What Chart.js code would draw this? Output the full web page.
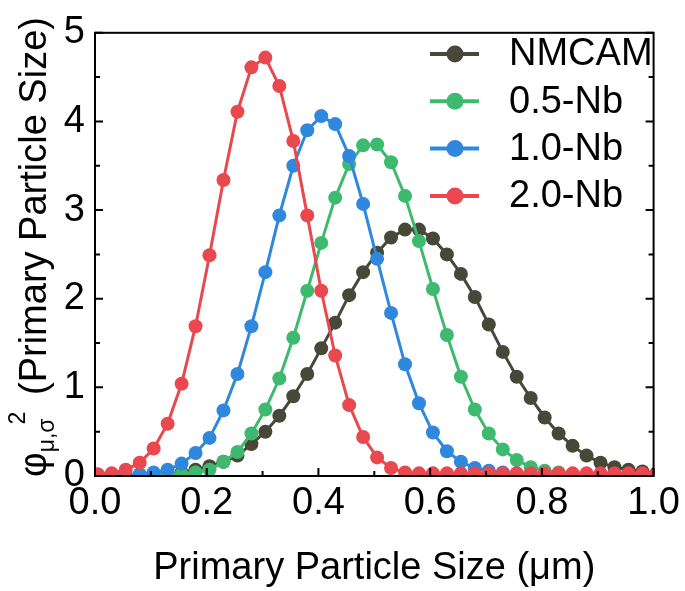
<!DOCTYPE html>
<html>
<head>
<meta charset="utf-8">
<script src="https://cdn.jsdelivr.net/npm/chart.js@4.4.0/dist/chart.umd.min.js"></script>
<style>
  html, body { margin: 0; padding: 0; background: #fff; }
  canvas { display: block; }
</style>
</head>
<body>
<canvas id="chart1" width="685" height="591"></canvas>
<script>
// primary particle size (um)
const sizes = [0.005, 0.03, 0.055, 0.08, 0.105, 0.13, 0.155, 0.18, 0.205, 0.23,
  0.255, 0.28, 0.305, 0.33, 0.355, 0.38, 0.405, 0.43, 0.455, 0.48,
  0.505, 0.53, 0.555, 0.58, 0.605, 0.63, 0.655, 0.68, 0.705, 0.73,
  0.755, 0.78, 0.805, 0.83, 0.855, 0.88, 0.905, 0.93, 0.955, 0.98, 1.005];

const nmcam = [0, 0, 0, 0, 0.01, 0.02, 0.04, 0.07, 0.11, 0.16,
  0.23, 0.36, 0.50, 0.68, 0.90, 1.15, 1.44, 1.73, 2.04, 2.30,
  2.52, 2.69, 2.78, 2.78, 2.68, 2.50, 2.28, 2.02, 1.71, 1.40,
  1.12, 0.88, 0.66, 0.48, 0.34, 0.23, 0.15, 0.10, 0.07, 0.05, 0.03];
const nb05 = [0, 0, 0, 0, 0.01, 0.01, 0.02, 0.04, 0.07, 0.16,
  0.27, 0.48, 0.75, 1.10, 1.56, 2.09, 2.63, 3.14, 3.52, 3.73,
  3.74, 3.54, 3.16, 2.65, 2.11, 1.59, 1.12, 0.75, 0.48, 0.30,
  0.18, 0.10, 0.06, 0.04, 0.02, 0.01, 0.01, 0.01, 0.01, 0.01, 0.01];
const nb10 = [0, 0, 0.01, 0.02, 0.04, 0.07, 0.14, 0.26, 0.43, 0.74,
  1.15, 1.69, 2.30, 2.94, 3.50, 3.90, 4.06, 3.97, 3.61, 3.07,
  2.45, 1.84, 1.26, 0.82, 0.49, 0.28, 0.16, 0.09, 0.06, 0.04,
  0.03, 0.02, 0.02, 0.01, 0.01, 0.01, 0.01, 0.01, 0.01, 0.01, 0.01];
const nb20 = [0.02, 0.03, 0.07, 0.15, 0.31, 0.59, 1.04, 1.69, 2.49, 3.34,
  4.11, 4.61, 4.72, 4.40, 3.78, 2.94, 2.09, 1.36, 0.80, 0.44,
  0.21, 0.09, 0.04, 0.03, 0.03, 0.03, 0.03, 0.03, 0.03, 0.03,
  0.03, 0.03, 0.03, 0.03, 0.03, 0.03, 0.03, 0.03, 0.03, 0.03, 0.03];

const seriesNames = ['NMCAM', '0.5-Nb', '1.0-Nb', '2.0-Nb'];
const seriesValues = [nmcam, nb05, nb10, nb20];
const colors = ['#474838', '#3dba6f', '#2f88dd', '#e8484e'];

const xTicks = [0, 0.2, 0.4, 0.6, 0.8, 1.0];
const xMinor = [0.1, 0.3, 0.5, 0.7, 0.9];
const yTicks = [0, 1, 2, 3, 4, 5];
const yMinor = [0.5, 1.5, 2.5, 3.5, 4.5];

const FONT = '"Liberation Sans", Arial, sans-serif';
const FS = 38;

const framePlugin = {
  id: 'frame',
  afterDraw(chart) {
    const ctx = chart.ctx, a = chart.chartArea;
    const xs = chart.scales.x, ys = chart.scales.y;
    ctx.save();
    ctx.strokeStyle = '#000';
    ctx.lineWidth = 2;
    ctx.strokeRect(a.left, a.top, a.right - a.left, a.bottom - a.top);
    ctx.beginPath();
    const tick = (vals, len) => {
      vals.forEach(v => {
        const px = xs.getPixelForValue(v);
        ctx.moveTo(px, a.bottom); ctx.lineTo(px, a.bottom - len);
      });
    };
    tick(xTicks, 8); tick(xMinor, 5);
    const ytick = (vals, len) => {
      vals.forEach(v => {
        const py = ys.getPixelForValue(v);
        ctx.moveTo(a.left, py); ctx.lineTo(a.left + len, py);
        ctx.moveTo(a.right, py); ctx.lineTo(a.right - len, py);
      });
    };
    ytick(yTicks, 8); ytick(yMinor, 5);
    ctx.stroke();

    // legend
    ctx.font = FS + 'px ' + FONT;
    ctx.textBaseline = 'middle';
    ctx.textAlign = 'left';
    seriesNames.forEach((name, i) => {
      const cy = 54 + i * 47.3;
      ctx.strokeStyle = colors[i];
      ctx.lineWidth = 4;
      ctx.beginPath(); ctx.moveTo(430, cy); ctx.lineTo(479, cy); ctx.stroke();
      ctx.fillStyle = colors[i];
      ctx.beginPath(); ctx.arc(455, cy, 8.5, 0, Math.PI * 2); ctx.fill();
      ctx.fillStyle = '#000';
      ctx.fillText(name, 509, cy + 1);
    });

    // x title
    ctx.textAlign = 'center';
    ctx.textBaseline = 'alphabetic';
    ctx.fillText('Primary Particle Size (\u03bcm)', (a.left + a.right) / 2, 579);

    // y title
    ctx.save();
    ctx.translate(46, 477);
    ctx.rotate(-Math.PI / 2);
    ctx.textAlign = 'left';
    ctx.font = FS + 'px ' + FONT;
    ctx.fillText('\u03c6', 0, 0);
    const phiW = ctx.measureText('\u03c6').width;
    ctx.font = '23px ' + FONT;
    ctx.fillText('\u03bc,\u03c3', phiW, 8);
    const subW = ctx.measureText('\u03bc,\u03c3').width;
    ctx.fillText('2', phiW + subW - 6, -21);
    ctx.font = FS + 'px ' + FONT;
    ctx.fillText('(Primary Particle Size)', 82, 0);
    ctx.restore();
    ctx.restore();
  }
};

new Chart(document.getElementById('chart1'), {
  type: 'line',
  data: {
    datasets: seriesNames.map((name, i) => ({
      label: name,
      data: sizes.map((s, k) => ({ x: s, y: seriesValues[i][k] })),
      borderColor: colors[i],
      backgroundColor: colors[i],
      borderWidth: 3,
      pointRadius: 7,
      pointBorderWidth: 0,
      pointBackgroundColor: colors[i],
      tension: 0,
      order: 3 - i
    }))
  },
  options: {
    responsive: false,
    animation: false,
    devicePixelRatio: 1,
    layout: { padding: { left: 0, right: 31, top: 28, bottom: 0 } },
    plugins: { legend: { display: false }, tooltip: { enabled: false } },
    scales: {
      x: {
        type: 'linear', min: 0, max: 1,
        afterBuildTicks: s => { s.ticks = xTicks.map(v => ({ value: v })); },
        afterFit: s => { s.height = 115; },
        grid: { display: false, drawTicks: false },
        border: { display: false },
        ticks: {
          color: '#000', padding: 5, maxRotation: 0,
          font: { size: FS, family: FONT },
          callback: v => v.toFixed(1)
        }
      },
      y: {
        type: 'linear', min: 0, max: 5,
        afterBuildTicks: s => { s.ticks = yTicks.map(v => ({ value: v })); },
        afterFit: s => { s.width = 95; },
        grid: { display: false, drawTicks: false },
        border: { display: false },
        ticks: {
          color: '#000', padding: 10,
          font: { size: FS, family: FONT },
          callback: v => String(v)
        }
      }
    }
  },
  plugins: [framePlugin]
});
</script>
</body>
</html>
